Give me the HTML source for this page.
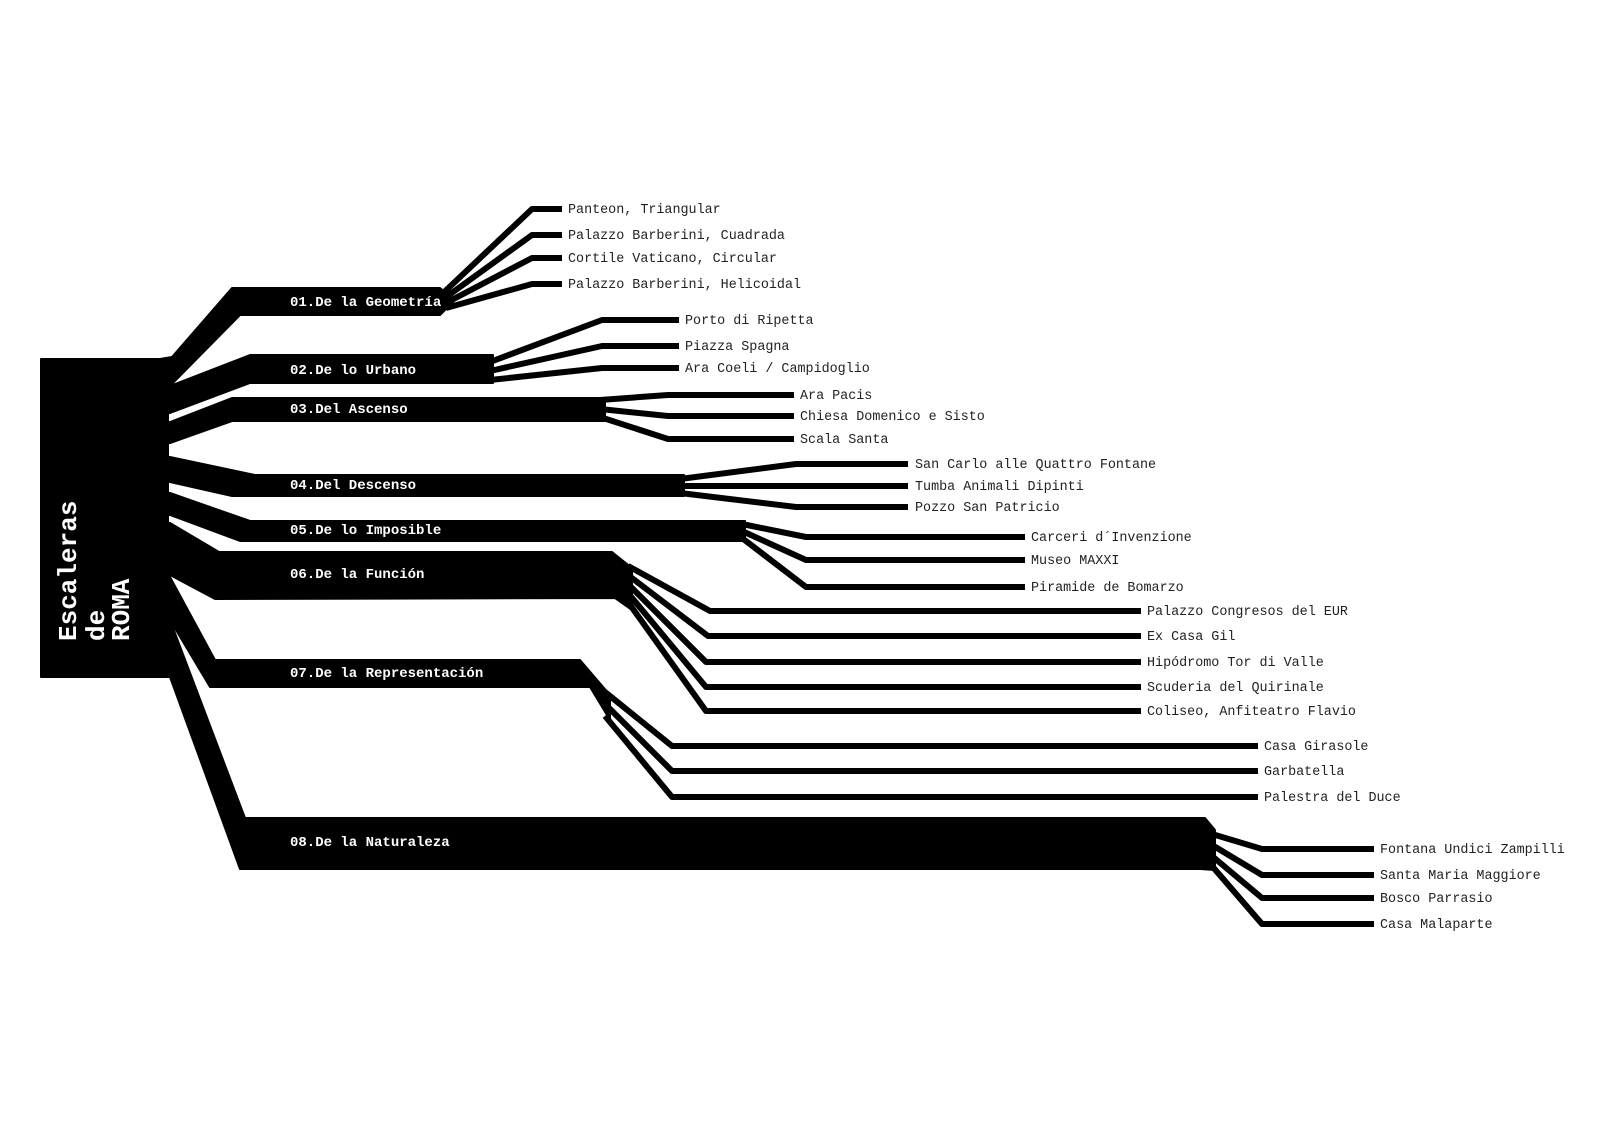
<!DOCTYPE html>
<html><head><meta charset="utf-8"><style>
html,body{margin:0;padding:0;background:#fff;}
svg{display:block}
.c{font-family:"Liberation Mono",monospace;font-weight:bold;font-size:14px;fill:#fff}
.l{font-family:"Liberation Mono",monospace;font-size:13.4px;fill:#222}
.t{font-family:"Liberation Mono",monospace;font-weight:bold;font-size:26px;fill:#fff}
.f{fill:none;stroke:#000;stroke-width:6;stroke-linejoin:round;stroke-linecap:butt}
</style></head><body>
<svg width="1600" height="1131" viewBox="0 0 1600 1131" xmlns="http://www.w3.org/2000/svg">
<g fill="#000" stroke="#000" stroke-width="2" stroke-linejoin="round">
<rect x="41" y="359" width="127" height="318"/>
<polygon points="160,359 172,357 232,288 440,288 455,300 440,315 240,315 170,386 160,386"/>
<polygon points="160,386 170,386 250,355 493,355 493,383 250,383 170,413 160,413"/>
<polygon points="160,422 170,422 232,398 605,398 605,421 232,421 170,443 160,443"/>
<polygon points="160,457 170,457 255,475 684,475 684,496 232,496 170,482 160,482"/>
<polygon points="160,493 170,493 250,521 745,521 745,541 240,541 170,515 160,515"/>
<polygon points="160,523 170,523 219,552 612,552 632,568 632,610 615,598 215,599 170,575 160,575"/>
<polygon points="160,577 170,577 215,660 580,660 610,695 610,720 590,687 210,687 170,620 160,620"/>
<polygon points="160,620 170,620 245,818 1205,818 1215,830 1215,870 1200,869 240,869 170,677 160,677"/>
</g>
<g class="f">
<polyline points="440,296 532,209 562,209"/>
<polyline points="442,300 532,235 562,235"/>
<polyline points="444,304 532,258 562,258"/>
<polyline points="446,308 532,284 562,284"/>
<polyline points="490,362 602,320 679,320"/>
<polyline points="490,371 602,346 679,346"/>
<polyline points="490,380 602,368 679,368"/>
<polyline points="600,400 668,395 794,395"/>
<polyline points="600,409 668,416 794,416"/>
<polyline points="600,417 668,439 794,439"/>
<polyline points="680,479 796,464 908,464"/>
<polyline points="680,486 796,486 908,486"/>
<polyline points="680,493 796,507 908,507"/>
<polyline points="742,524 806,537 1025,537"/>
<polyline points="742,531 806,560 1025,560"/>
<polyline points="742,538 806,587 1025,587"/>
<polyline points="628,566 710,611 1141,611"/>
<polyline points="628,575 708,636 1141,636"/>
<polyline points="628,584 706,662 1141,662"/>
<polyline points="628,593 706,687 1141,687"/>
<polyline points="628,602 706,711 1141,711"/>
<polyline points="605,692 672,746 1258,746"/>
<polyline points="605,704 672,771 1258,771"/>
<polyline points="605,716 672,797 1258,797"/>
<polyline points="1212,834 1262,849 1374,849"/>
<polyline points="1212,845 1262,875 1374,875"/>
<polyline points="1212,856 1262,898 1374,898"/>
<polyline points="1212,866 1262,924 1374,924"/>
</g>
<text class="t" transform="translate(76,641) rotate(-90)">Escaleras</text>
<text class="t" transform="translate(104,641) rotate(-90)">de</text>
<text class="t" transform="translate(129,641) rotate(-90)">ROMA</text>
<text class="c" x="290" y="306">01.De la Geometría</text>
<text class="c" x="290" y="374">02.De lo Urbano</text>
<text class="c" x="290" y="413">03.Del Ascenso</text>
<text class="c" x="290" y="489">04.Del Descenso</text>
<text class="c" x="290" y="534">05.De lo Imposible</text>
<text class="c" x="290" y="578">06.De la Función</text>
<text class="c" x="290" y="677">07.De la Representación</text>
<text class="c" x="290" y="846">08.De la Naturaleza</text>
<g class="l">
<text x="568" y="213">Panteon, Triangular</text>
<text x="568" y="239">Palazzo Barberini, Cuadrada</text>
<text x="568" y="262">Cortile Vaticano, Circular</text>
<text x="568" y="288">Palazzo Barberini, Helicoidal</text>
<text x="685" y="324">Porto di Ripetta</text>
<text x="685" y="350">Piazza Spagna</text>
<text x="685" y="372">Ara Coeli / Campidoglio</text>
<text x="800" y="399">Ara Pacis</text>
<text x="800" y="420">Chiesa Domenico e Sisto</text>
<text x="800" y="443">Scala Santa</text>
<text x="915" y="468">San Carlo alle Quattro Fontane</text>
<text x="915" y="490">Tumba Animali Dipinti</text>
<text x="915" y="511">Pozzo San Patricio</text>
<text x="1031" y="541">Carceri d´Invenzione</text>
<text x="1031" y="564">Museo MAXXI</text>
<text x="1031" y="591">Piramide de Bomarzo</text>
<text x="1147" y="615">Palazzo Congresos del EUR</text>
<text x="1147" y="640">Ex Casa Gil</text>
<text x="1147" y="666">Hipódromo Tor di Valle</text>
<text x="1147" y="691">Scuderia del Quirinale</text>
<text x="1147" y="715">Coliseo, Anfiteatro Flavio</text>
<text x="1264" y="750">Casa Girasole</text>
<text x="1264" y="775">Garbatella</text>
<text x="1264" y="801">Palestra del Duce</text>
<text x="1380" y="853">Fontana Undici Zampilli</text>
<text x="1380" y="879">Santa Maria Maggiore</text>
<text x="1380" y="902">Bosco Parrasio</text>
<text x="1380" y="928">Casa Malaparte</text>
</g>
</svg>
</body></html>
